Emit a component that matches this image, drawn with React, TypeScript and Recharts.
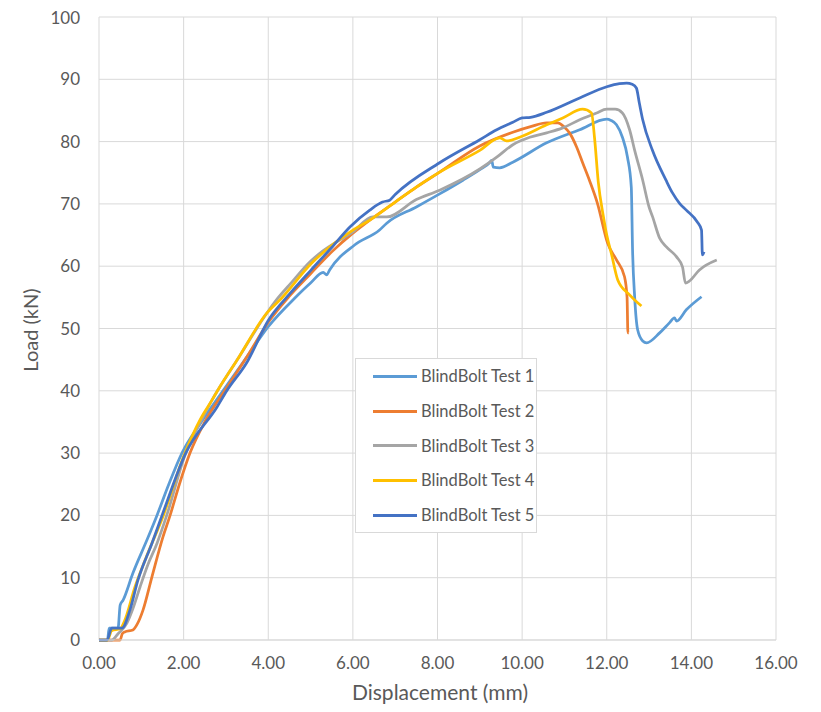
import React from 'react';
import { LineChart, Line, XAxis, YAxis, CartesianGrid, Legend } from 'recharts';

// [displacement (mm), load (kN)]
const test1 = [
  [0, 0], [0.2, 0], [0.24, 1.9], [0.45, 1.9], [0.5, 5.6], [0.57, 6.4], [0.8, 10.7], [1.13, 16], [1.37, 20],
  [1.65, 25], [1.96, 30], [2.4, 34.8], [2.93, 40], [3.5, 45.5], [4.0, 50.3], [4.63, 54.9], [5.0, 57.3],
  [5.3, 59.0], [5.38, 58.6], [5.45, 59.4], [6.04, 63.4], [6.63, 65.8], [6.8, 66.9], [7.5, 69.5], [8.05, 71.6],
  [8.6, 73.8], [9.0, 75.5], [9.23, 76.6], [9.28, 77.0], [9.32, 75.9], [9.47, 75.8], [9.78, 76.7], [10.58, 79.8],
  [11.36, 81.9], [12.0, 83.6], [12.1, 83.4], [12.23, 82.7], [12.37, 80.7], [12.49, 77.5], [12.58, 72.7],
  [12.61, 62.6], [12.66, 55.0], [12.73, 49.8], [12.85, 48.0], [12.94, 47.7], [13.25, 49.3], [13.48, 50.9],
  [13.6, 51.7], [13.65, 51.2], [13.88, 53.0], [14.24, 55.1],
];

const test2 = [
  [0, 0], [0.5, 0], [0.55, 1.0], [0.61, 1.3], [0.8, 1.6], [0.9, 2.5], [1.04, 4.8], [1.25, 10.1], [1.51, 16.5],
  [1.68, 20], [1.9, 25], [2.15, 30], [2.5, 35], [2.97, 40], [3.5, 45.5], [4.0, 51], [4.5, 55.2], [5.0, 58.8],
  [5.5, 62.3], [6.0, 65.3], [6.4, 67.4], [7.0, 70.3], [7.5, 72.7], [8.05, 75.1], [9.0, 79.3], [9.78, 81.5],
  [10.2, 82.4], [10.58, 83], [10.84, 83], [11.0, 82.3], [11.12, 81.4], [11.29, 79.1], [11.43, 76.6],
  [11.59, 73.8], [11.78, 70.1], [12.02, 63.7], [12.23, 61], [12.42, 58.3], [12.48, 55], [12.5, 49.3],
  [12.52, 49.3],
];

const test3 = [
  [0, 0], [0.3, 0], [0.45, 1], [0.66, 2.7], [0.8, 5], [0.97, 8.5], [1.15, 12], [1.37, 15.5], [1.6, 20],
  [2.05, 30], [2.4, 35], [2.67, 38.5], [2.8, 40], [3.26, 44.9], [3.97, 52.5], [4.23, 54.9], [4.5, 57],
  [5.0, 60.8], [5.3, 62.5], [6.0, 65.5], [6.47, 67.9], [6.8, 67.9], [7.5, 70.7], [8.05, 72.2], [9.0, 75.6],
  [9.4, 77.5], [9.78, 79.5], [10.18, 80.7], [10.58, 81.4], [10.96, 82.2], [11.36, 83.5], [11.76, 84.6],
  [12.0, 85.2], [12.2, 85.2], [12.37, 84.6], [12.54, 81.9], [12.66, 78.6], [12.85, 73.8], [13.0, 69.5],
  [13.08, 68], [13.25, 64.5], [13.41, 63.1], [13.65, 61.5], [13.79, 59.9], [13.86, 57.3], [13.95, 57.6],
  [14.19, 59.4], [14.6, 61],
];

const test4 = [
  [0, 0], [0.2, 0], [0.3, 1.5], [0.5, 1.8], [0.6, 3], [0.85, 8.5], [1.1, 13], [1.52, 20], [2.0, 29.5],
  [2.4, 35.5], [2.67, 38.5], [2.8, 40], [3.26, 44.9], [3.97, 52.5], [4.32, 54.9], [5.0, 60.3], [6.0, 65.8],
  [6.4, 67.4], [7.0, 70.3], [7.5, 72.7], [8.05, 75.1], [9.0, 78.6], [9.47, 80.6], [9.63, 80.1], [9.94, 80.7],
  [10.58, 82.7], [10.96, 83.8], [11.43, 85.2], [11.64, 84.6], [11.71, 80.7], [11.8, 73.5], [11.92, 68],
  [12.0, 65], [12.11, 62], [12.26, 57.8], [12.54, 55.4], [12.82, 53.6],
];

const test5 = [
  [0, 0], [0.19, 0], [0.3, 1.9], [0.54, 1.9], [0.73, 4.8], [0.92, 9.6], [1.25, 15.5], [1.49, 20], [2.05, 30],
  [2.79, 37.4], [3.02, 40], [3.49, 44.5], [4.0, 51.3], [4.5, 55.5], [5.0, 59.3], [5.5, 63], [5.93, 66.3],
  [6.4, 69], [6.7, 70.3], [6.87, 70.6], [7.0, 71.5], [8.05, 76.6], [9.0, 80.3], [9.4, 81.9], [9.78, 83.1],
  [10.0, 83.8], [10.2, 83.9], [10.58, 84.7], [11.36, 87], [12.0, 88.8], [12.3, 89.3], [12.47, 89.4],
  [12.6, 89.2], [12.7, 88.6], [12.77, 86.2], [12.85, 83.5], [13.08, 78.6], [13.4, 73.8], [13.55, 71.8],
  [13.72, 70.1], [13.88, 69], [14.14, 67.1], [14.24, 65.8], [14.26, 61.8], [14.3, 62.3],
];

const seriesNames = ['BlindBolt Test 1', 'BlindBolt Test 2', 'BlindBolt Test 3', 'BlindBolt Test 4', 'BlindBolt Test 5'];
const seriesColors = ['#5B9BD5', '#ED7D31', '#A5A5A5', '#FFC000', '#4472C4'];
const xTicks = [0, 2, 4, 6, 8, 10, 12, 14, 16];
const yTicks = [0, 10, 20, 30, 40, 50, 60, 70, 80, 90, 100];

const FONT = 'Lato, "Open Sans", sans-serif';
const TEXT = '#595959';

const toPoints = (pairs: number[][]) => pairs.map(([x, y]) => ({ x, y }));
const allSeries = [test1, test2, test3, test4, test5].map(toPoints);

const LegendBox = (props: any) => {
  const items = props.payload || [];
  return (
    <div style={{ width: 182, height: 175, boxSizing: 'border-box', border: '1px solid #D9D9D9', background: '#fff', paddingTop: 0 }}>
      {items.map((it: any) => (
        <div key={it.value} style={{ display: 'flex', alignItems: 'center', height: 34.7, fontFamily: FONT, fontSize: 16.5, color: TEXT }}>
          <span style={{ display: 'inline-block', width: 44, height: 3, background: it.color, marginLeft: 17, marginRight: 4 }} />
          <span>{it.value}</span>
        </div>
      ))}
    </div>
  );
};

const App: React.FC = () => {
  return (
    <div style={{ width: 813, height: 704 }}>
      <LineChart width={813} height={704} margin={{ top: 9, right: 45, left: 0, bottom: 0 }}>
        <CartesianGrid stroke="#D9D9D9" strokeWidth={1} />
        <XAxis
          type="number"
          dataKey="x"
          domain={[0, 16]}
          ticks={xTicks}
          tickFormatter={(v: number) => v.toFixed(2)}
          height={72}
          axisLine={{ stroke: '#D9D9D9' }}
          tickLine={false}
          tickSize={0}
          tickMargin={17}
          tick={{ fill: TEXT, fontSize: 17, fontFamily: FONT }}
          label={{
            content: () => (
              <text x={432} y={692} textAnchor="middle" fill={TEXT} fontSize={21} fontFamily={FONT}>
                Displacement (mm)
              </text>
            ),
          }}
        />
        <YAxis
          type="number"
          domain={[0, 100]}
          ticks={yTicks}
          width={91}
          axisLine={false}
          tickLine={false}
          tickSize={0}
          tickMargin={19}
          tick={{ fill: TEXT, fontSize: 17, fontFamily: FONT }}
          label={{
            content: () => (
              <text x={30} y={322} transform="rotate(-90 30 322)" textAnchor="middle" fill={TEXT} fontSize={20} fontFamily={FONT}>
                Load (kN)
              </text>
            ),
          }}
        />
        <Legend
          layout="vertical"
          align="center"
          verticalAlign="middle"
          content={<LegendBox />}
          wrapperStyle={{ left: 347, top: 350, width: 182, height: 175 }}
        />
        {allSeries.map((data, i) => (
          <Line
            key={seriesNames[i]}
            data={data}
            dataKey="y"
            name={seriesNames[i]}
            type="monotone"
            stroke={seriesColors[i]}
            strokeWidth={2.75}
            strokeLinejoin="round"
            dot={false}
            activeDot={false}
            isAnimationActive={false}
          />
        ))}
      </LineChart>
    </div>
  );
};

export default App;
